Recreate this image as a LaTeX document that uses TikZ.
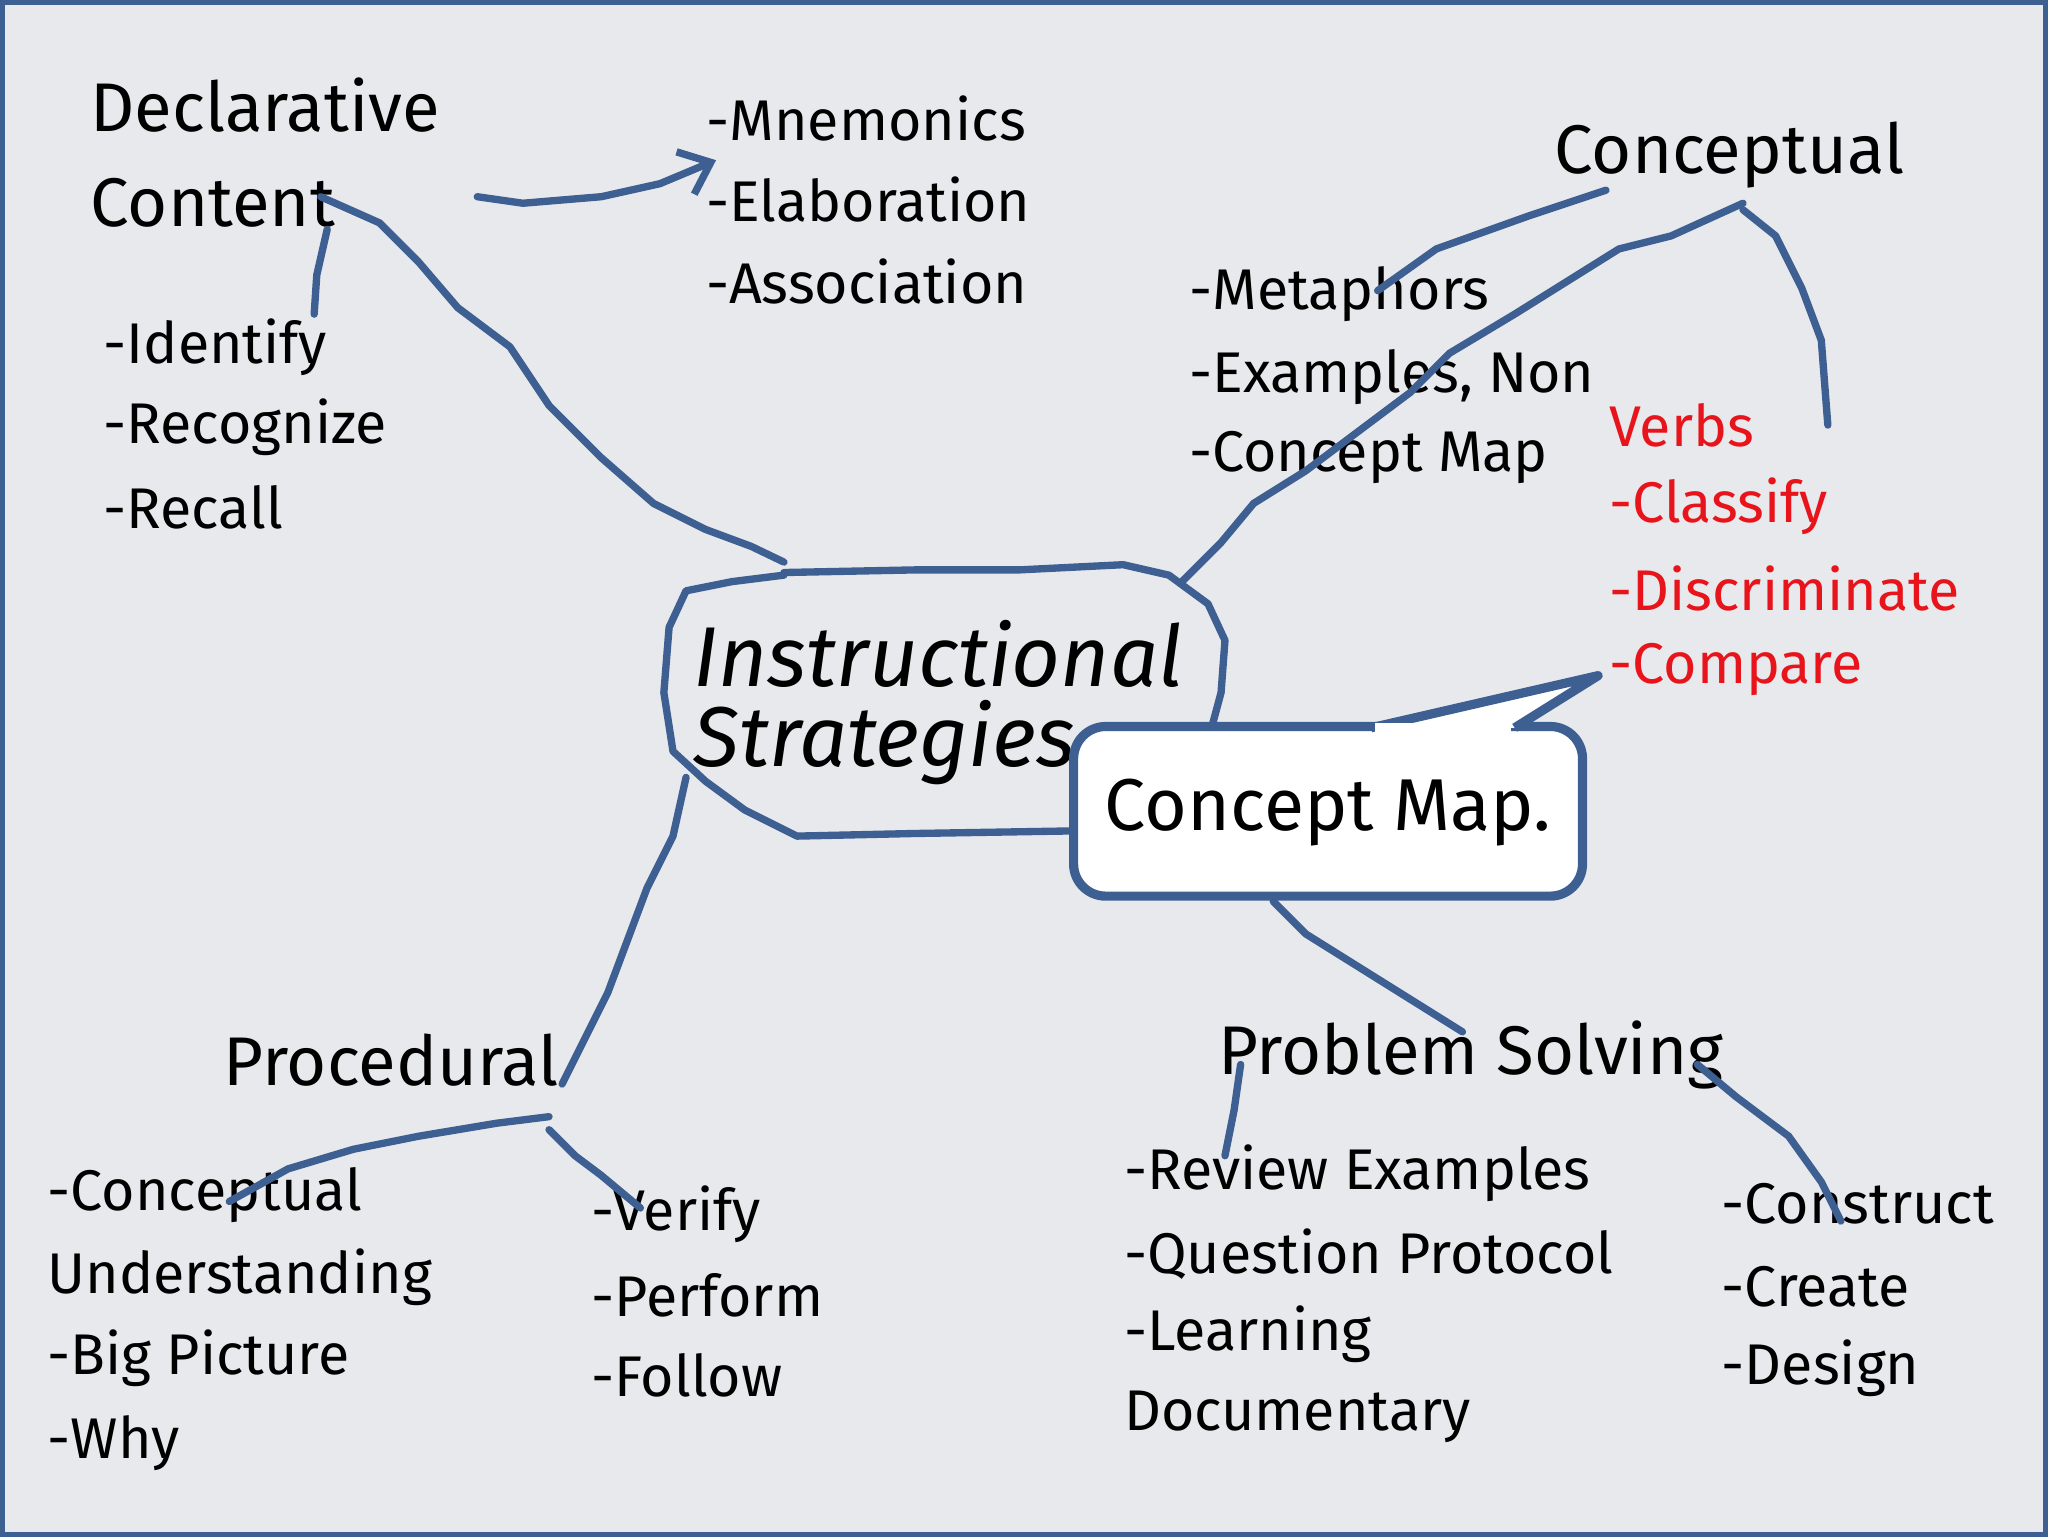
\documentclass[tikz,border=0pt]{standalone}
\usepackage{fontspec}
\setmainfont{Fira Sans}
\usetikzlibrary{arrows.meta}
\definecolor{bg}{HTML}{E8E9EC}
\definecolor{ln}{HTML}{3E5F92}
\definecolor{rd}{HTML}{E8141B}
\tikzset{
  item/.style={anchor=west,inner sep=0pt,font=\fontsize{12.5}{14}\selectfont},
  head/.style={anchor=west,inner sep=0pt,font=\fontsize{15}{17}\selectfont},
  redi/.style={item,text=rd},
  wire/.style={ln,line width=1.6pt,line join=round,line cap=round}
}
\begin{document}
\begin{tikzpicture}[x=0.01cm,y=-0.01cm]
\fill[bg] (0,0) rectangle (1568,1176);
\draw[ln,line width=1pt] (1,1) rectangle (1567,1175);
\useasboundingbox (0,0) rectangle (1568,1176);

% texts
\node[head] (dec1) at (68,80) {Declarative};
\node[head] (dec2) at (68,155) {Content};
\node[item] (mn) at (540,90) {-Mnemonics};
\node[item] (el) at (540,152) {-Elaboration};
\node[item] (as) at (540,215) {-Association};
\node[item] at (78,265) {-Identify};
\node[item] at (78,327) {-Recognize};
\node[item] at (78,388) {-Recall};
\node[head] (con) at (1190,118) {Conceptual};
\node[item] at (910,225) {-Metaphors};
\node[item] at (910,288) {-Examples, Non};
\node[item] at (910,350) {-Concept Map};
\node[redi] at (1232,325) {Verbs};
\node[redi] at (1232,387) {-Classify};
\node[redi] at (1232,450) {-Discriminate};
\node[redi] (cmp) at (1232,512) {-Compare};
\node[head] (proc) at (170,812) {Procedural};
\node[item] at (35,915) {-Conceptual};
\node[item] at (35,978) {Understanding};
\node[item] at (35,1040) {-Big Picture};
\node[item] at (35,1105) {-Why};
\node[item] at (452,930) {-Verify};
\node[item] at (452,992) {-Perform};
\node[item] at (452,1053) {-Follow};
\node[head] (ps) at (932,808) {Problem Solving};
\node[item] at (860,898) {-Review Examples};
\node[item] at (860,960) {-Question Protocol};
\node[item] at (860,1022) {-Learning};
\node[item] at (860,1085) {Documentary};
\node[item] at (1318,922) {-Construct};
\node[item] at (1318,985) {-Create};
\node[item] at (1318,1048) {-Design};

% central blob
\draw[wire] (600,438) -- (700,436) -- (780,436) -- (860,432) -- (895,440) -- (925,462) -- (938,490) -- (935,530) -- (928,556)
  (822,636) -- (700,638) -- (610,640) -- (570,620) -- (540,598) -- (515,575) -- (508,530) -- (512,480) -- (525,452) -- (560,445) -- (600,440);
\node[anchor=west,inner sep=0pt,font=\fontsize{18.5}{20}\itshape\rmfamily] (is1) at (530,500) {Instructional};
\node[anchor=west,inner sep=0pt,font=\fontsize{18.5}{20}\itshape\rmfamily] (is2) at (530,568) {Strategies};

% connectors
\draw[wire] (245,150) -- (290,170) -- (320,200) -- (350,235) -- (390,265) -- (420,310) -- (460,350) -- (500,385) -- (540,405) -- (575,418) -- (600,430);
\draw[wire] (250,175) -- (242,210) -- (240,240);
\draw[wire,-{Straight Barb[length=6pt,width=10pt]}] (365,150) -- (400,155) -- (460,150) -- (505,140) -- (548,122);
\draw[wire] (905,445) -- (935,415) -- (960,385) -- (1000,360) -- (1040,330) -- (1080,300) -- (1110,270) -- (1160,240) -- (1200,215) -- (1240,190) -- (1280,180) -- (1335,155);
\draw[wire] (1055,222) -- (1100,190) -- (1170,165) -- (1230,145);
\draw[wire] (1335,160) -- (1360,180) -- (1380,220) -- (1395,260) -- (1400,325);
\draw[wire] (525,595) -- (515,640) -- (495,680) -- (480,720) -- (465,760) -- (445,800) -- (430,830);
\draw[wire] (420,855) -- (380,860) -- (320,870) -- (270,880) -- (220,895) -- (175,920);
\draw[wire] (420,865) -- (440,885) -- (460,900) -- (490,925);
\draw[wire] (975,690) -- (1000,715) -- (1040,740) -- (1080,765) -- (1120,790);
\draw[wire] (950,815) -- (945,850) -- (938,885);
\draw[wire] (1300,815) -- (1330,840) -- (1370,870) -- (1395,905) -- (1410,935);

% callout
\draw[ln,line width=2pt,fill=white,rounded corners=7pt] (822,556) rectangle (1212,686);
\draw[ln,line width=2pt,fill=white,line join=round] (1050,557) -- (1224,517) -- (1160,557);
\fill[white] (1053,553) rectangle (1157,560);
\node[font=\fontsize{16}{18}\selectfont] (cm) at (1017,622) {Concept Map.};
\end{tikzpicture}
\end{document}
